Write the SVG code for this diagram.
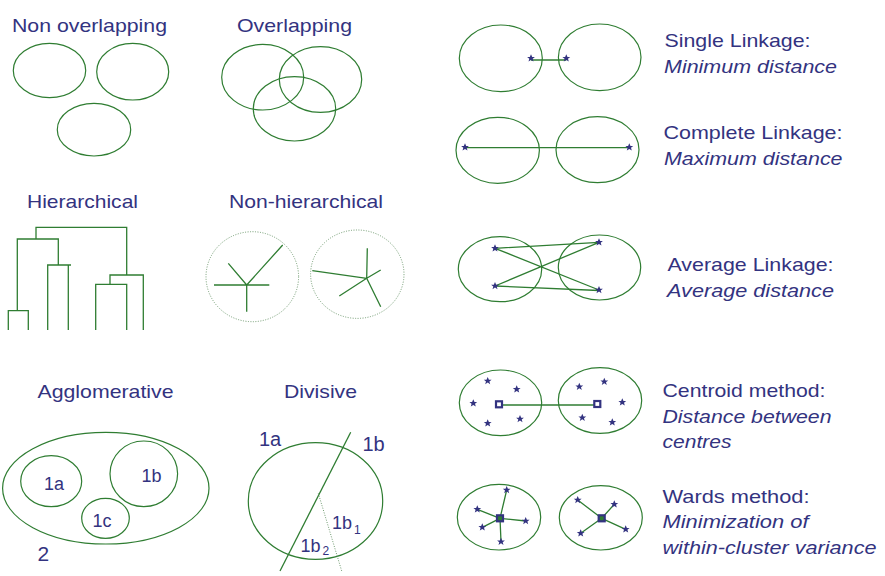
<svg xmlns="http://www.w3.org/2000/svg" xmlns:xlink="http://www.w3.org/1999/xlink" width="885" height="576" viewBox="0 0 885 576">
<style>
.lbl{font-family:"Liberation Sans",Arial,sans-serif;font-size:19px;fill:#333380}
.it{font-style:italic}
.sm{font-size:18px}
.md{font-size:20px}
.sub{font-size:12px}
.cl{fill:none;stroke:#2f7d32;stroke-width:1.2}
.ln{fill:none;stroke:#2f7d32;stroke-width:1.3}
.dot{fill:none;stroke:#6f9a6f;stroke-width:1;stroke-dasharray:1 1.5}
.cen{fill:#fff;stroke:#333380;stroke-width:2.2}
</style>
<defs>
<path id="star" d="M0,-4 L1.2,-1.3 L3.9,-1.3 L1.7,0.5 L2.5,3.3 L0,1.6 L-2.5,3.3 L-1.7,0.5 L-3.9,-1.3 L-1.2,-1.3 Z" fill="#333380"/>
</defs>
<rect width="885" height="576" fill="#fff"/>

<g id="non-overlapping">
<text class="lbl" x="12" y="32" textLength="155" lengthAdjust="spacingAndGlyphs">Non overlapping</text>
<ellipse class="cl" cx="49.5" cy="70.5" rx="36.2" ry="27.2"/>
<ellipse class="cl" cx="132.7" cy="71.7" rx="36" ry="28.3"/>
<ellipse class="cl" cx="94" cy="129.7" rx="36.7" ry="26.3"/>
</g>

<g id="overlapping">
<text class="lbl" x="237" y="32" textLength="115" lengthAdjust="spacingAndGlyphs">Overlapping</text>
<ellipse class="cl" cx="262.7" cy="77.2" rx="41" ry="32.8"/>
<ellipse class="cl" cx="320.5" cy="79.5" rx="41.2" ry="32.8"/>
<ellipse class="cl" cx="294.5" cy="108.8" rx="41.2" ry="32.2"/>
</g>

<g id="hierarchical">
<text class="lbl" x="27" y="207.7" textLength="111" lengthAdjust="spacingAndGlyphs">Hierarchical</text>
<path class="ln" d="M36,239 V227.3 H126.7 V275 M17.3,310.7 V239 H58.3 V265 M8.3,330 V310.7 H28.3 V330 M47.7,330 V265 H71 M68.3,265 V330 M110,284.3 V275 H143.3 V330 M95.7,330 V284.3 H126.7 V330"/>
</g>

<g id="non-hierarchical">
<text class="lbl" x="229" y="207.7" textLength="154" lengthAdjust="spacingAndGlyphs">Non-hierarchical</text>
<ellipse class="dot" cx="252.3" cy="276.7" rx="46.3" ry="45"/>
<path class="ln" d="M214,285 H269.3 M246.7,285 V311.7 M246.7,285 L228.3,263.3 M246.7,285 L282.7,245"/>
<ellipse class="dot" cx="357.3" cy="274.2" rx="46.7" ry="44.2"/>
<path class="ln" d="M366.7,278.3 L367.3,248.3 M366.7,278.3 L312.3,270.7 M366.7,278.3 L380.7,270 M366.7,278.3 L339.3,296 M366.7,278.3 L380.7,306.7"/>
</g>

<g id="agglomerative">
<text class="lbl" x="37.5" y="398.3" textLength="136" lengthAdjust="spacingAndGlyphs">Agglomerative</text>
<ellipse class="cl" cx="105.8" cy="488.2" rx="103.2" ry="55.8"/>
<ellipse class="cl" cx="51.2" cy="481.2" rx="30.5" ry="25.5"/>
<ellipse class="cl" cx="143.8" cy="473.8" rx="33.8" ry="32.8"/>
<ellipse class="cl" cx="105.5" cy="518.3" rx="23.8" ry="20"/>
<text class="lbl sm" x="44" y="490">1a</text>
<text class="lbl sm" x="141.5" y="482.3">1b</text>
<text class="lbl sm" x="92.5" y="527.3">1c</text>
<text class="lbl" x="37.5" y="561" style="font-size:21px">2</text>
</g>

<g id="divisive">
<text class="lbl" x="284" y="398.3" textLength="73" lengthAdjust="spacingAndGlyphs">Divisive</text>
<ellipse class="cl" cx="315.5" cy="501" rx="67.2" ry="58.3"/>
<path class="ln" d="M350.7,432.3 L280,571"/>
<path class="dot" d="M318.3,493.3 L341.7,571"/>
<text class="lbl md" x="259" y="446">1a</text>
<text class="lbl md" x="362.5" y="451">1b</text>
<text class="lbl sm" x="332" y="529.3">1b</text>
<text class="lbl sub" x="354" y="533.5">1</text>
<text class="lbl sm" x="300.5" y="551.7">1b</text>
<text class="lbl sub" x="322.5" y="555">2</text>
</g>

<g id="single-linkage">
<ellipse class="cl" cx="500.8" cy="58.3" rx="41.5" ry="33.3"/>
<ellipse class="cl" cx="599.7" cy="57.3" rx="41.3" ry="33.3"/>
<path class="ln" d="M531,60 H566.3"/>
<use xlink:href="#star" x="531" y="58.3"/>
<use xlink:href="#star" x="566.3" y="58.3"/>
<text class="lbl" x="664.5" y="46.7" textLength="146" lengthAdjust="spacingAndGlyphs">Single Linkage:</text>
<text class="lbl it" x="664" y="73.3" textLength="173" lengthAdjust="spacingAndGlyphs">Minimum distance</text>
</g>

<g id="complete-linkage">
<ellipse class="cl" cx="497.7" cy="150.3" rx="41.7" ry="33"/>
<ellipse class="cl" cx="597.5" cy="149.7" rx="41.5" ry="33"/>
<path class="ln" d="M465,147.7 H629.3"/>
<use xlink:href="#star" x="465" y="147.3"/>
<use xlink:href="#star" x="629.3" y="147.3"/>
<text class="lbl" x="663.5" y="139.3" textLength="179" lengthAdjust="spacingAndGlyphs">Complete Linkage:</text>
<text class="lbl it" x="664" y="165" textLength="178.5" lengthAdjust="spacingAndGlyphs">Maximum distance</text>
</g>

<g id="average-linkage">
<ellipse class="cl" cx="500" cy="269.2" rx="41.7" ry="32.5"/>
<ellipse class="cl" cx="599.5" cy="267.5" rx="41.2" ry="32.5"/>
<path class="ln" d="M495,248.3 L599,242.3 M495,248.3 L599,290 M495,286 L599,242.3 M495,286 L599,290.5"/>
<use xlink:href="#star" x="495" y="248.3"/>
<use xlink:href="#star" x="495" y="286"/>
<use xlink:href="#star" x="599" y="242.3"/>
<use xlink:href="#star" x="599" y="290"/>
<text class="lbl" x="667.5" y="270.7" textLength="166" lengthAdjust="spacingAndGlyphs">Average Linkage:</text>
<text class="lbl it" x="667" y="296.7" textLength="167" lengthAdjust="spacingAndGlyphs">Average distance</text>
</g>

<g id="centroid-method">
<ellipse class="cl" cx="500.5" cy="402.8" rx="41.2" ry="32.8"/>
<ellipse class="cl" cx="600" cy="400.5" rx="41.7" ry="32.8"/>
<path class="ln" d="M499,405 H597.3"/>
<rect class="cen" x="496" y="401.3" width="6" height="6"/>
<rect class="cen" x="594.3" y="401" width="6" height="6"/>
<use xlink:href="#star" x="487.7" y="381"/>
<use xlink:href="#star" x="516.7" y="389.3"/>
<use xlink:href="#star" x="473.3" y="403.3"/>
<use xlink:href="#star" x="520" y="419"/>
<use xlink:href="#star" x="487.7" y="423.3"/>
<use xlink:href="#star" x="579.3" y="386.7"/>
<use xlink:href="#star" x="604.3" y="381.7"/>
<use xlink:href="#star" x="622.3" y="402.3"/>
<use xlink:href="#star" x="582.3" y="417.7"/>
<use xlink:href="#star" x="612.3" y="422.3"/>
<text class="lbl" x="662.5" y="396.7" textLength="163" lengthAdjust="spacingAndGlyphs">Centroid method:</text>
<text class="lbl it" x="662.5" y="422.7" textLength="169" lengthAdjust="spacingAndGlyphs">Distance between</text>
<text class="lbl it" x="662.5" y="447.7" textLength="69" lengthAdjust="spacingAndGlyphs">centres</text>
</g>

<g id="wards-method">
<ellipse class="cl" cx="499" cy="517.2" rx="41.7" ry="32.8"/>
<ellipse class="cl" cx="600.8" cy="517.8" rx="41.5" ry="32.2"/>
<path class="ln" d="M500,518.3 L506.7,490 M500,518.3 L477.3,509.3 M500,518.3 L525.7,521 M500,518.3 L482.3,527.3 M500,518.3 L501,541.7 M601.7,518.3 L577.7,500 M601.7,518.3 L614.3,504.3 M601.7,518.3 L625.7,529.3 M601.7,518.3 L580.7,533.3"/>
<rect class="cen" x="497" y="515.3" width="6" height="6" style="fill:#2f7d32"/>
<rect class="cen" x="598.7" y="515.3" width="6" height="6" style="fill:#2f7d32"/>
<use xlink:href="#star" x="506.7" y="490"/>
<use xlink:href="#star" x="477.3" y="509.3"/>
<use xlink:href="#star" x="525.7" y="521"/>
<use xlink:href="#star" x="482.3" y="527.3"/>
<use xlink:href="#star" x="501" y="541.7"/>
<use xlink:href="#star" x="577.7" y="500"/>
<use xlink:href="#star" x="614.3" y="504.3"/>
<use xlink:href="#star" x="625.7" y="529.3"/>
<use xlink:href="#star" x="580.7" y="533.3"/>
<text class="lbl" x="662.5" y="502.7" textLength="147" lengthAdjust="spacingAndGlyphs">Wards method:</text>
<text class="lbl it" x="662.5" y="528.3" textLength="146" lengthAdjust="spacingAndGlyphs">Minimization of</text>
<text class="lbl it" x="662.5" y="554.3" textLength="214" lengthAdjust="spacingAndGlyphs">within-cluster variance</text>
</g>
</svg>
